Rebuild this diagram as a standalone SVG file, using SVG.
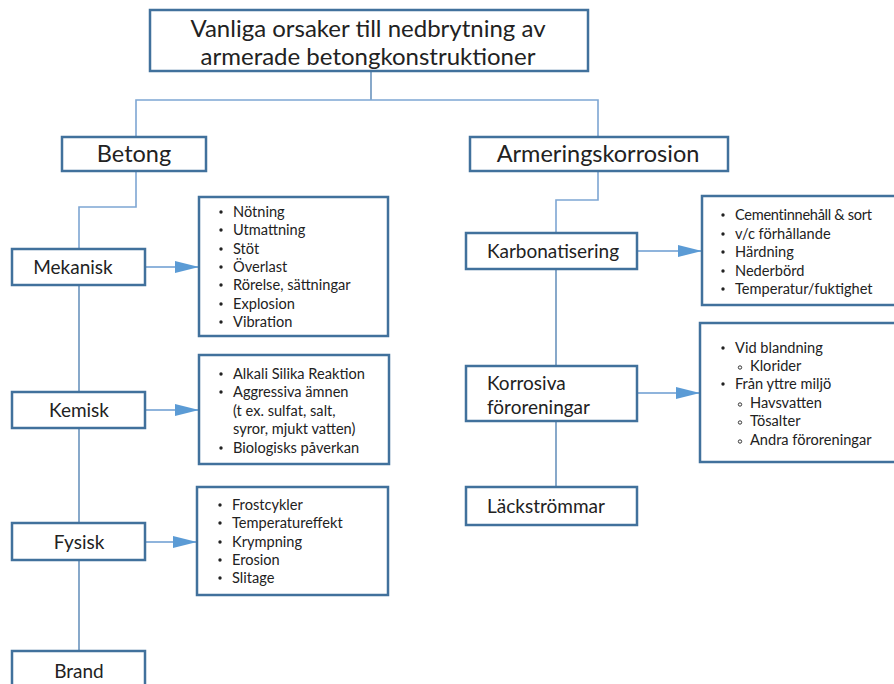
<svg xmlns="http://www.w3.org/2000/svg" width="894" height="684" viewBox="0 0 894 684">
  <defs>
    <style>
      .box { fill: #ffffff; stroke: #41719c; stroke-width: 2.5; }
      .link { fill: none; stroke: #7ea6d3; stroke-width: 1.6; }
      .trunk { fill: none; stroke: #6a93bd; stroke-width: 1.6; }
      .arrow { fill: none; stroke: #8fb4dc; stroke-width: 2; }
      text { font-family: Lato, "Liberation Sans", sans-serif; fill: #222222; }
      .t0 { font-size: 24px; text-anchor: middle; }
      .t1 { font-size: 23.5px; text-anchor: middle; }
      .t2 { font-size: 19px; }
      .c { text-anchor: middle; }
      .li { font-size: 14.6px; }
      .dot { fill: #222222; }
      .sub { fill: none; stroke: #222222; stroke-width: 0.9; }
    </style>
    <marker id="head" viewBox="0 0 24 12" refX="24" refY="6" markerWidth="24" markerHeight="12" markerUnits="userSpaceOnUse" orient="auto">
      <path d="M0,0 L24,6 L0,12 Z" fill="#5b9bd5"/>
    </marker>
  </defs>

  <!-- connectors -->
  <g id="connectors">
    <polyline class="trunk" points="371,71 371,100"/>
    <polyline class="link" points="136,137 136,100 598,100 598,137"/>
    <polyline class="link" points="136,171 136,207 79,207 79,249"/>
    <polyline class="trunk" points="79,285 79,392"/>
    <polyline class="trunk" points="79,428 79,523"/>
    <polyline class="trunk" points="79,560 79,651"/>
    <polyline class="link" points="598,171 598,200 556,200 556,233"/>
    <polyline class="trunk" points="556,269 556,366"/>
    <polyline class="trunk" points="556,421 556,487"/>
    <line class="arrow" x1="145" y1="267" x2="199" y2="267" marker-end="url(#head)"/>
    <line class="arrow" x1="145" y1="410" x2="199" y2="410" marker-end="url(#head)"/>
    <line class="arrow" x1="145" y1="542" x2="197" y2="542" marker-end="url(#head)"/>
    <line class="arrow" x1="637" y1="251" x2="702" y2="251" marker-end="url(#head)"/>
    <line class="arrow" x1="637" y1="393" x2="700" y2="393" marker-end="url(#head)"/>
  </g>

  <g id="root">
    <rect class="box" x="150" y="10" width="438" height="61"/>
    <text class="t0" x="368" y="37">Vanliga orsaker till nedbrytning av</text>
    <text class="t0" x="368" y="65">armerade betongkonstruktioner</text>
  </g>

  <g id="betong">
    <rect class="box" x="62" y="137" width="144" height="34"/>
    <text class="t1" x="134" y="162">Betong</text>
  </g>

  <g id="armeringskorrosion">
    <rect class="box" x="470" y="137" width="258" height="34"/>
    <text class="t1" x="598" y="162">Armeringskorrosion</text>
  </g>

  <g id="mekanisk">
    <rect class="box" x="12" y="249" width="133" height="36"/>
    <text class="t2 c" x="73" y="274">Mekanisk</text>
  </g>

  <g id="kemisk">
    <rect class="box" x="12" y="392" width="133" height="36"/>
    <text class="t2 c" x="79" y="417">Kemisk</text>
  </g>

  <g id="fysisk">
    <rect class="box" x="12" y="523" width="133" height="37"/>
    <text class="t2 c" x="79" y="549">Fysisk</text>
  </g>

  <g id="brand">
    <rect class="box" x="12" y="651" width="133" height="40"/>
    <text class="t2 c" x="79" y="678">Brand</text>
  </g>

  <g id="mekanisk-orsaker">
    <rect class="box" x="199" y="197" width="189" height="139"/>
    <g class="dot">
      <circle cx="221" cy="212" r="1.7"/>
      <circle cx="221" cy="230" r="1.7"/>
      <circle cx="221" cy="249" r="1.7"/>
      <circle cx="221" cy="267" r="1.7"/>
      <circle cx="221" cy="285" r="1.7"/>
      <circle cx="221" cy="304" r="1.7"/>
      <circle cx="221" cy="322" r="1.7"/>
    </g>
    <g class="li">
      <text x="233" y="217">Nötning</text>
      <text x="233" y="235">Utmattning</text>
      <text x="233" y="254">Stöt</text>
      <text x="233" y="272">Överlast</text>
      <text x="233" y="290">Rörelse, sättningar</text>
      <text x="233" y="309">Explosion</text>
      <text x="233" y="327">Vibration</text>
    </g>
  </g>

  <g id="kemisk-orsaker">
    <rect class="box" x="199" y="355" width="190" height="109"/>
    <g class="dot">
      <circle cx="221" cy="374" r="1.7"/>
      <circle cx="221" cy="392" r="1.7"/>
      <circle cx="221" cy="448" r="1.7"/>
    </g>
    <g class="li">
      <text x="233" y="379">Alkali Silika Reaktion</text>
      <text x="233" y="397">Aggressiva ämnen</text>
      <text x="233" y="416">(t ex. sulfat, salt,</text>
      <text x="233" y="434">syror, mjukt vatten)</text>
      <text x="233" y="453">Biologisks påverkan</text>
    </g>
  </g>

  <g id="fysisk-orsaker">
    <rect class="box" x="197" y="487" width="191" height="108"/>
    <g class="dot">
      <circle cx="220" cy="505" r="1.7"/>
      <circle cx="220" cy="523" r="1.7"/>
      <circle cx="220" cy="542" r="1.7"/>
      <circle cx="220" cy="560" r="1.7"/>
      <circle cx="220" cy="578" r="1.7"/>
    </g>
    <g class="li">
      <text x="232" y="510">Frostcykler</text>
      <text x="232" y="528">Temperatureffekt</text>
      <text x="232" y="547">Krympning</text>
      <text x="232" y="565">Erosion</text>
      <text x="232" y="583">Slitage</text>
    </g>
  </g>

  <g id="karbonatisering">
    <rect class="box" x="466" y="233" width="171" height="36"/>
    <text class="t2 c" x="553" y="258">Karbonatisering</text>
  </g>

  <g id="korrosiva-fororeningar">
    <rect class="box" x="466" y="366" width="171" height="55"/>
    <text class="t2" x="487" y="390">Korrosiva</text>
    <text class="t2" x="487" y="414">föroreningar</text>
  </g>

  <g id="lackstrommar">
    <rect class="box" x="466" y="487" width="171" height="38"/>
    <text class="t2" x="487" y="513">Läckströmmar</text>
  </g>

  <g id="karbonatisering-faktorer">
    <rect class="box" x="702" y="196" width="196" height="109"/>
    <g class="dot">
      <circle cx="723" cy="215" r="1.7"/>
      <circle cx="723" cy="234" r="1.7"/>
      <circle cx="723" cy="252" r="1.7"/>
      <circle cx="723" cy="271" r="1.7"/>
      <circle cx="723" cy="289" r="1.7"/>
    </g>
    <g class="li">
      <text x="735" y="220" letter-spacing="-0.3">Cementinnehåll &amp; sort</text>
      <text x="735" y="239">v/c förhållande</text>
      <text x="735" y="257">Härdning</text>
      <text x="735" y="276">Nederbörd</text>
      <text x="735" y="294">Temperatur/fuktighet</text>
    </g>
  </g>

  <g id="fororeningar-kallor">
    <rect class="box" x="700" y="323" width="198" height="139"/>
    <g class="dot">
      <circle cx="723" cy="348" r="1.7"/>
      <circle cx="723" cy="384" r="1.7"/>
    </g>
    <g class="sub">
      <circle cx="740" cy="367.5" r="1.7"/>
      <circle cx="740" cy="404.5" r="1.7"/>
      <circle cx="740" cy="422.5" r="1.7"/>
      <circle cx="740" cy="441.5" r="1.7"/>
    </g>
    <g class="li">
      <text x="735" y="353">Vid blandning</text>
      <text x="750" y="371">Klorider</text>
      <text x="735" y="389">Från yttre miljö</text>
      <text x="750" y="408">Havsvatten</text>
      <text x="750" y="426">Tösalter</text>
      <text x="750" y="445">Andra föroreningar</text>
    </g>
  </g>
</svg>
